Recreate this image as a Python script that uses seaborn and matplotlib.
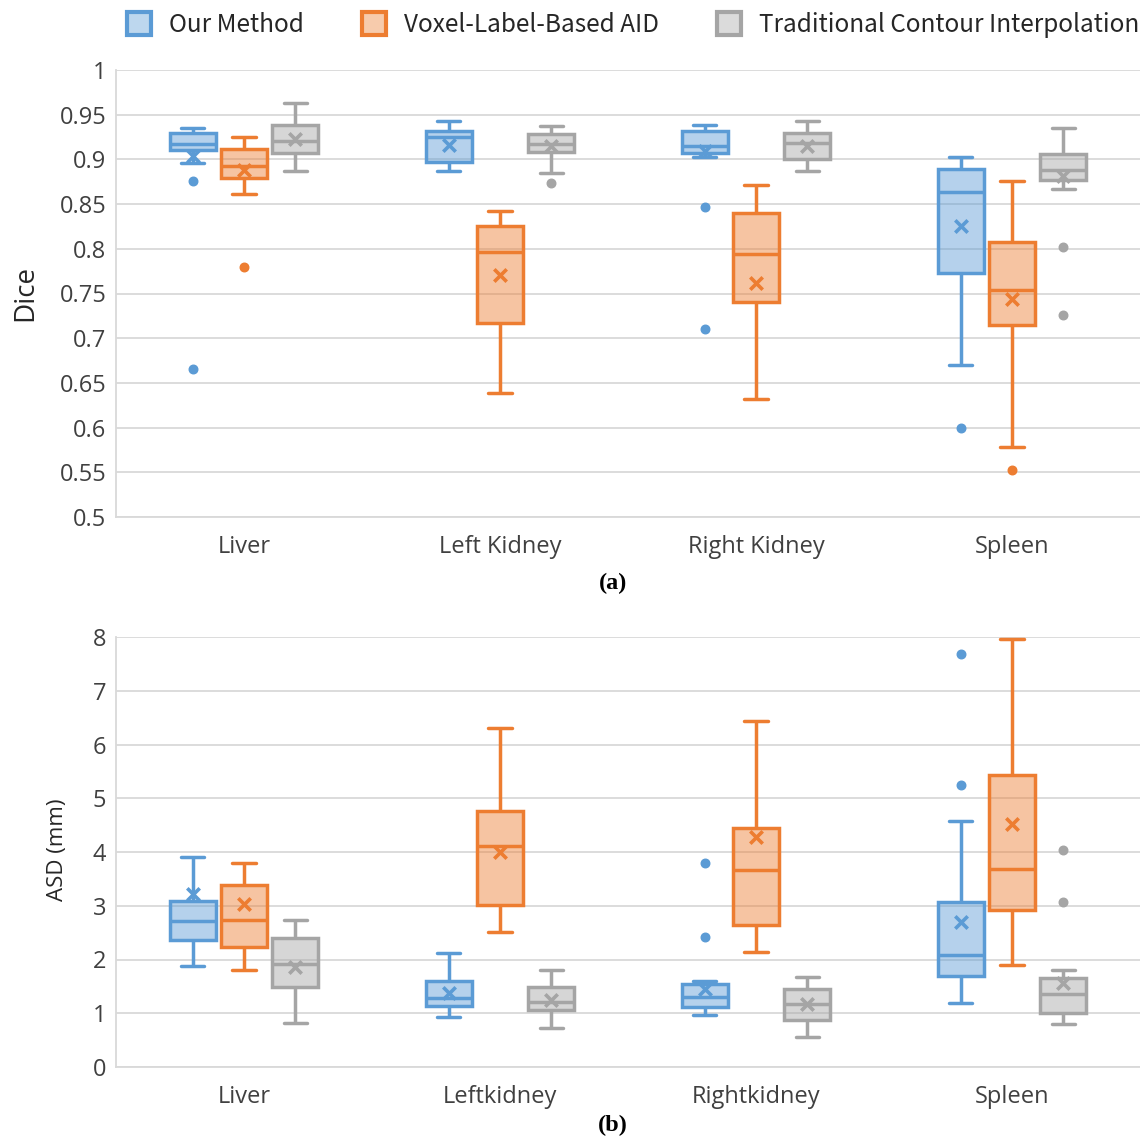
import numpy as np
import pandas as pd
import matplotlib
matplotlib.use("Agg")
import matplotlib.pyplot as plt
import seaborn as sns
from matplotlib.patches import Patch
from matplotlib.colors import to_rgba

methods = ["Our Method", "Voxel-Label-Based AID", "Traditional Contour Interpolation"]
colors = ["#5B9BD5", "#ED7D31", "#A5A5A5"]
organs_a = ["Liver", "Left Kidney", "Right Kidney", "Spleen"]
organs_b = ["Liver", "Leftkidney", "Rightkidney", "Spleen"]

# five-number summaries per organ: (lower whisker, Q1, median, Q3, upper whisker)
dice_our = [(0.896, 0.910, 0.917, 0.929, 0.935), (0.887, 0.897, 0.925, 0.932, 0.943),
            (0.903, 0.907, 0.915, 0.932, 0.939), (0.670, 0.773, 0.863, 0.889, 0.903)]
dice_aid = [(0.861, 0.879, 0.893, 0.912, 0.925), (0.639, 0.717, 0.796, 0.826, 0.842),
            (0.632, 0.740, 0.794, 0.840, 0.871), (0.578, 0.715, 0.754, 0.808, 0.876)]
dice_tci = [(0.887, 0.907, 0.921, 0.938, 0.963), (0.885, 0.908, 0.917, 0.928, 0.937),
            (0.887, 0.900, 0.918, 0.929, 0.943), (0.867, 0.877, 0.888, 0.906, 0.935)]
dice_our_mean = [0.904, 0.916, 0.909, 0.825]
dice_aid_mean = [0.888, 0.771, 0.762, 0.744]
dice_tci_mean = [0.923, 0.915, 0.915, 0.881]
dice_our_out = [[0.876, 0.665], [], [0.847, 0.710], [0.599]]
dice_aid_out = [[0.780], [], [], [0.553]]
dice_tci_out = [[], [0.874], [], [0.802, 0.726]]

asd_our = [(1.879, 2.363, 2.710, 3.094, 3.907), (0.924, 1.141, 1.278, 1.606, 2.127),
           (0.967, 1.110, 1.308, 1.544, 1.600), (1.197, 1.693, 2.078, 3.064, 4.571)]
asd_aid = [(1.798, 2.238, 2.735, 3.386, 3.800), (2.518, 3.008, 4.110, 4.770, 6.300),
           (2.140, 2.642, 3.665, 4.440, 6.437), (1.904, 2.921, 3.678, 5.427, 7.968)]
asd_tci = [(0.818, 1.494, 1.916, 2.406, 2.741), (0.720, 1.060, 1.215, 1.494, 1.805),
           (0.564, 0.874, 1.172, 1.457, 1.680), (0.794, 1.010, 1.358, 1.662, 1.799)]
asd_our_mean = [3.219, 1.371, 1.457, 2.704]
asd_aid_mean = [3.033, 4.006, 4.279, 4.521]
asd_tci_mean = [1.866, 1.247, 1.178, 1.557]
asd_our_out = [[], [], [3.800, 2.419], [7.678, 5.240]]
asd_aid_out = [[], [], [], []]
asd_tci_out = [[], [], [], [4.031, 3.076]]

sns.set_style("white")
plt.rcParams["font.family"] = ["Open Sans", "DejaVu Sans"]

W, H = 1140, 1138
fig = plt.figure(figsize=(W / 100, H / 100), dpi=100)
ax1 = fig.add_axes([116 / W, 1 - 517 / H, 1 - 116 / W, (517 - 70) / H])
ax2 = fig.add_axes([116 / W, 1 - 1067 / H, 1 - 116 / W, (1067 - 637) / H])


def draw(ax, organs, boxes, means, outs):
    for j, m in enumerate(methods):
        rows = [(org, m, v) for i, org in enumerate(organs) for v in boxes[j][i]]
        df = pd.DataFrame(rows, columns=["organ", "method", "value"])
        n0 = len(ax.patches)
        sns.boxplot(data=df, x="organ", y="value", hue="method", order=organs,
                    hue_order=methods, palette=dict(zip(methods, colors)),
                    saturation=1, dodge=True, width=0.6, gap=0.1, whis=(0, 100),
                    linecolor=colors[j], linewidth=2.5, fill=True, legend=False,
                    ax=ax, zorder=3)
        for p in ax.patches[n0:]:
            p.set_facecolor(to_rgba(colors[j], 0.45))
            p.set_edgecolor(colors[j])
        xs = np.arange(len(organs)) + (j - 1) * 0.2
        ax.scatter(xs, means[j], marker="x", s=80, linewidths=2.6,
                   color=colors[j], zorder=6)
        ox = [xs[i] for i in range(len(organs)) for _ in outs[j][i]]
        oy = [v for i in range(len(organs)) for v in outs[j][i]]
        if ox:
            ax.scatter(ox, oy, marker="o", s=38, color=colors[j],
                       edgecolors=colors[j], zorder=6)
    ax.set_xlim(-0.5, len(organs) - 0.5)
    ax.set_xlabel("")
    ax.set_ylabel("")
    ax.yaxis.grid(True, color="#D9D9D9", lw=1.3)
    ax.set_axisbelow(True)
    for s in ["top", "right"]:
        ax.spines[s].set_visible(False)
    for s in ["left", "bottom"]:
        ax.spines[s].set_color("#D9D9D9")
        ax.spines[s].set_linewidth(1.3)
    ax.tick_params(axis="both", length=0, labelsize=17, labelcolor="#404040")
    ax.tick_params(axis="x", pad=13)
    ax.tick_params(axis="y", pad=7)


draw(ax1, organs_a, [dice_our, dice_aid, dice_tci],
     [dice_our_mean, dice_aid_mean, dice_tci_mean],
     [dice_our_out, dice_aid_out, dice_tci_out])
ax1.set_ylim(0.5, 1.0)
ax1.set_yticks(np.arange(0.5, 1.0001, 0.05))
ax1.set_yticklabels(["%g" % round(v, 2) for v in np.arange(0.5, 1.0001, 0.05)])

draw(ax2, organs_b, [asd_our, asd_aid, asd_tci],
     [asd_our_mean, asd_aid_mean, asd_tci_mean],
     [asd_our_out, asd_aid_out, asd_tci_out])
ax2.set_ylim(0, 8)
ax2.set_yticks(range(0, 9))

fig.text(25 / W, 1 - 293 / H, "Dice", rotation=90, ha="center", va="center",
         fontsize=20, color="#262626")
fig.text(58 / W, 1 - 850 / H, "ASD (mm)", rotation=90, ha="center", va="center",
         fontsize=16, color="#262626")
fig.text(613 / W, 1 - 583 / H, "(a)", ha="center", va="center", fontsize=17.5,
         fontweight="bold", family="Liberation Serif", color="black")
fig.text(613 / W, 1 - 1125 / H, "(b)", ha="center", va="center", fontsize=17.5,
         fontweight="bold", family="Liberation Serif", color="black")

handles = [Patch(facecolor=to_rgba(c, 0.4), edgecolor=c, linewidth=3) for c in colors]
fig.legend(handles, methods, loc="center", bbox_to_anchor=(633 / W, 1 - 25 / H),
           ncol=3, frameon=False, handlelength=1.0, handleheight=1.1,
           handletextpad=0.72, columnspacing=2.4,
           prop={"family": ["Noto Sans CJK SC", "DejaVu Sans"], "size": 17.5})

fig.savefig("out.png", dpi=100)
